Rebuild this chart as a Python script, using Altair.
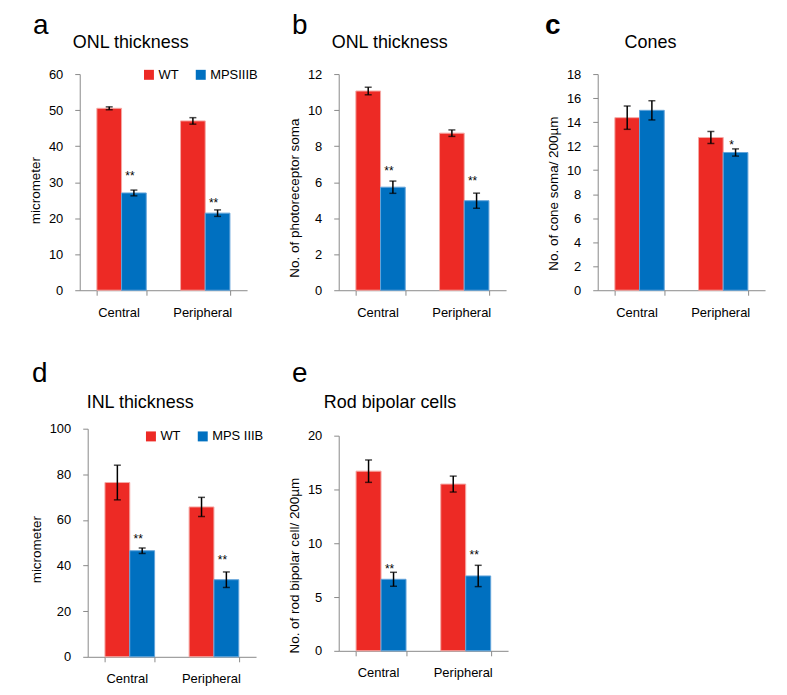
import altair as alt
import pandas as pd

FONT = "Liberation Sans"
RED = "#ED2A25"
BLUE = "#0070C0"
RED_EDGE = "#F5A9A5"
BLUE_EDGE = "#62A4DA"
AXIS_GRAY = "#8A8A8A"

categories = ["Central", "Peripheral"]

# panel a - ONL thickness (micrometer)
a_wt_mean = [50.5, 47.0]
a_wt_err = [0.4, 0.9]
a_mps_mean = [27.0, 21.4]
a_mps_err = [0.8, 0.9]
a_sig = ["**", "**"]
a_sig_y = [32.4, 25.0]

# panel b - ONL thickness (No. of photoreceptor soma)
b_wt_mean = [11.06, 8.72]
b_wt_err = [0.21, 0.18]
b_mps_mean = [5.72, 4.97]
b_mps_err = [0.34, 0.42]
b_sig = ["**", "**"]
b_sig_y = [6.8, 6.25]

# panel c - Cones
c_wt_mean = [14.37, 12.72]
c_wt_err = [0.97, 0.5]
c_mps_mean = [14.98, 11.47]
c_mps_err = [0.8, 0.3]
c_sig = ["", "*"]
c_sig_y = [0.0, 12.35]

# panel d - INL thickness
d_wt_mean = [76.4, 65.7]
d_wt_err = [7.6, 4.2]
d_mps_mean = [46.5, 33.8]
d_mps_err = [1.2, 3.4]
d_sig = ["**", "**"]
d_sig_y = [53.0, 43.8]

# panel e - Rod bipolar cells
e_wt_mean = [16.7, 15.5]
e_wt_err = [1.04, 0.74]
e_mps_mean = [6.65, 6.96]
e_mps_err = [0.65, 0.99]
e_sig = ["**", "**"]
e_sig_y = [7.9, 9.14]


def panel(letter, title, ytitle, mps_name, wt_mean, wt_err, mps_mean, mps_err,
          sig, sig_y, ymax, ystep, width, height, xrange, yrange, legend,
          title_x, title_y, letter_x, letter_y, ytitle_y,
          yaxis_offset=0, xaxis_offset=0, letter_weight="normal"):
    rows = []
    for i, cat in enumerate(categories):
        rows.append(dict(cat=cat, grp="WT", mean=wt_mean[i],
                         lo=wt_mean[i] - wt_err[i], hi=wt_mean[i] + wt_err[i],
                         sig="", sig_y=0.0))
        rows.append(dict(cat=cat, grp=mps_name, mean=mps_mean[i],
                         lo=mps_mean[i] - mps_err[i], hi=mps_mean[i] + mps_err[i],
                         sig=sig[i], sig_y=sig_y[i]))
    df = pd.DataFrame(rows)
    groups = ["WT", mps_name]

    x_enc = alt.X("cat:N", sort=categories,
                  scale=alt.Scale(range=xrange, paddingInner=0.41, paddingOuter=0.205),
                  axis=alt.Axis(title=None, labelAngle=0, tickBand="extent",
                                offset=xaxis_offset, labelOffset=-3, labelPadding=11,
                                tickSize=5))
    xo_enc = alt.XOffset("grp:N", sort=groups, scale=alt.Scale(domain=groups))
    y_scale = alt.Scale(domain=[0, ymax], range=yrange, nice=False, zero=True)
    y_axis = alt.Axis(title=ytitle, values=list(range(0, ymax + 1, ystep)),
                      offset=yaxis_offset, titleY=ytitle_y, labelPadding=12,
                      titlePadding=6, tickSize=5)

    if legend is None:
        leg = None
    else:
        leg = alt.Legend(orient="none", legendX=legend[0], legendY=legend[1],
                         direction="horizontal", title=None, symbolType="square",
                         symbolSize=100, symbolStrokeWidth=0, labelFontSize=13,
                         columnPadding=15, labelOffset=3, padding=0,
                         labelFont=FONT, labelColor="black")

    base = alt.Chart(df)
    bars = base.mark_bar(strokeWidth=1).encode(
        x=x_enc, xOffset=xo_enc,
        y=alt.Y("mean:Q", scale=y_scale, axis=y_axis),
        color=alt.Color("grp:N", scale=alt.Scale(domain=groups, range=[RED, BLUE]), legend=leg),
        stroke=alt.Stroke("grp:N", scale=alt.Scale(domain=groups, range=[RED_EDGE, BLUE_EDGE]), legend=None),
    )
    rule = base.mark_rule(color="black", strokeWidth=1.5).encode(
        x=x_enc, xOffset=xo_enc,
        y=alt.Y("lo:Q", scale=y_scale, axis=y_axis), y2="hi:Q",
    )
    cap_lo = base.mark_tick(color="black", thickness=1.5, size=7).encode(
        x=x_enc, xOffset=xo_enc, y=alt.Y("lo:Q", scale=y_scale, axis=y_axis))
    cap_hi = base.mark_tick(color="black", thickness=1.5, size=7).encode(
        x=x_enc, xOffset=xo_enc, y=alt.Y("hi:Q", scale=y_scale, axis=y_axis))
    stars = base.transform_filter("datum.sig != ''").mark_text(
        font=FONT, fontSize=12, color="black", baseline="alphabetic", dy=7, dx=-4
    ).encode(x=x_enc, xOffset=xo_enc,
             y=alt.Y("sig_y:Q", scale=y_scale, axis=y_axis), text="sig:N")
    letter_txt = alt.Chart(pd.DataFrame({"t": [letter]})).mark_text(
        font=FONT, fontSize=28, fontWeight=letter_weight, color="black",
        align="left", baseline="alphabetic"
    ).encode(text="t:N", x=alt.value(letter_x), y=alt.value(letter_y))
    title_txt = alt.Chart(pd.DataFrame({"t": [title]})).mark_text(
        font=FONT, fontSize=18, color="black", align="left", baseline="alphabetic"
    ).encode(text="t:N", x=alt.value(title_x), y=alt.value(title_y))

    return alt.layer(bars, rule, cap_lo, cap_hi, stars, letter_txt, title_txt).properties(
        width=width, height=height)


pa = panel("a", "ONL thickness", "micrometer", "MPSIIIB", a_wt_mean, a_wt_err,
           a_mps_mean, a_mps_err, a_sig, a_sig_y, 60, 10, 177, 217, [0, 168], [217, 0],
           (63, -6), -7, -26, -47, -40, 116.5)
pb = panel("b", "ONL thickness", "No. of photoreceptor soma", "MPSIIIB", b_wt_mean, b_wt_err,
           b_mps_mean, b_mps_err, b_sig, b_sig_y, 12, 2, 177, 217, [0, 168], [217, 0],
           None, -7, -26, -47, -40, 124)
pc = panel("c", "Cones", "No. of cone soma/ 200µm", "MPSIIIB", c_wt_mean, c_wt_err,
           c_mps_mean, c_mps_err, c_sig, c_sig_y, 18, 2, 177, 217, [0, 168], [217, 0],
           None, 27, -26, -53, -40, 119.5, letter_weight="bold")
pd_ = panel("d", "INL thickness", "micrometer", "MPS IIIB", d_wt_mean, d_wt_err,
            d_mps_mean, d_mps_err, d_sig, d_sig_y, 100, 20, 177, 229, [8, 177], [229, 0],
            (65, 1), 7, -21, -48, -47, 121, yaxis_offset=-8)
pe = panel("e", "Rod bipolar cells", "No. of rod bipolar cell/ 200µm", "MPSIIIB", e_wt_mean, e_wt_err,
           e_mps_mean, e_mps_err, e_sig, e_sig_y, 20, 5, 177, 229, [0, 170], [223, 7],
           None, -15, -20.5, -47, -47, 137, xaxis_offset=-6)

chart = alt.concat(
    pa, pb, pc, pd_, pe, columns=3, spacing={"row": 139, "column": 83}, bounds="flush"
).resolve_scale(
    x="independent", y="independent", xOffset="independent",
    color="independent", stroke="independent"
).properties(
    padding={"left": 20, "top": 3, "right": 5, "bottom": 5}
).configure_view(
    stroke=None
).configure_axis(
    domainColor=AXIS_GRAY, tickColor=AXIS_GRAY, domainWidth=1, tickWidth=1,
    labelFont=FONT, titleFont=FONT, labelColor="black", titleColor="black",
    labelFontSize=13, titleFontSize=13.5, titleFontWeight="normal", grid=False
)

chart.save("out.html", embed_options={"renderer": "svg", "actions": False})
